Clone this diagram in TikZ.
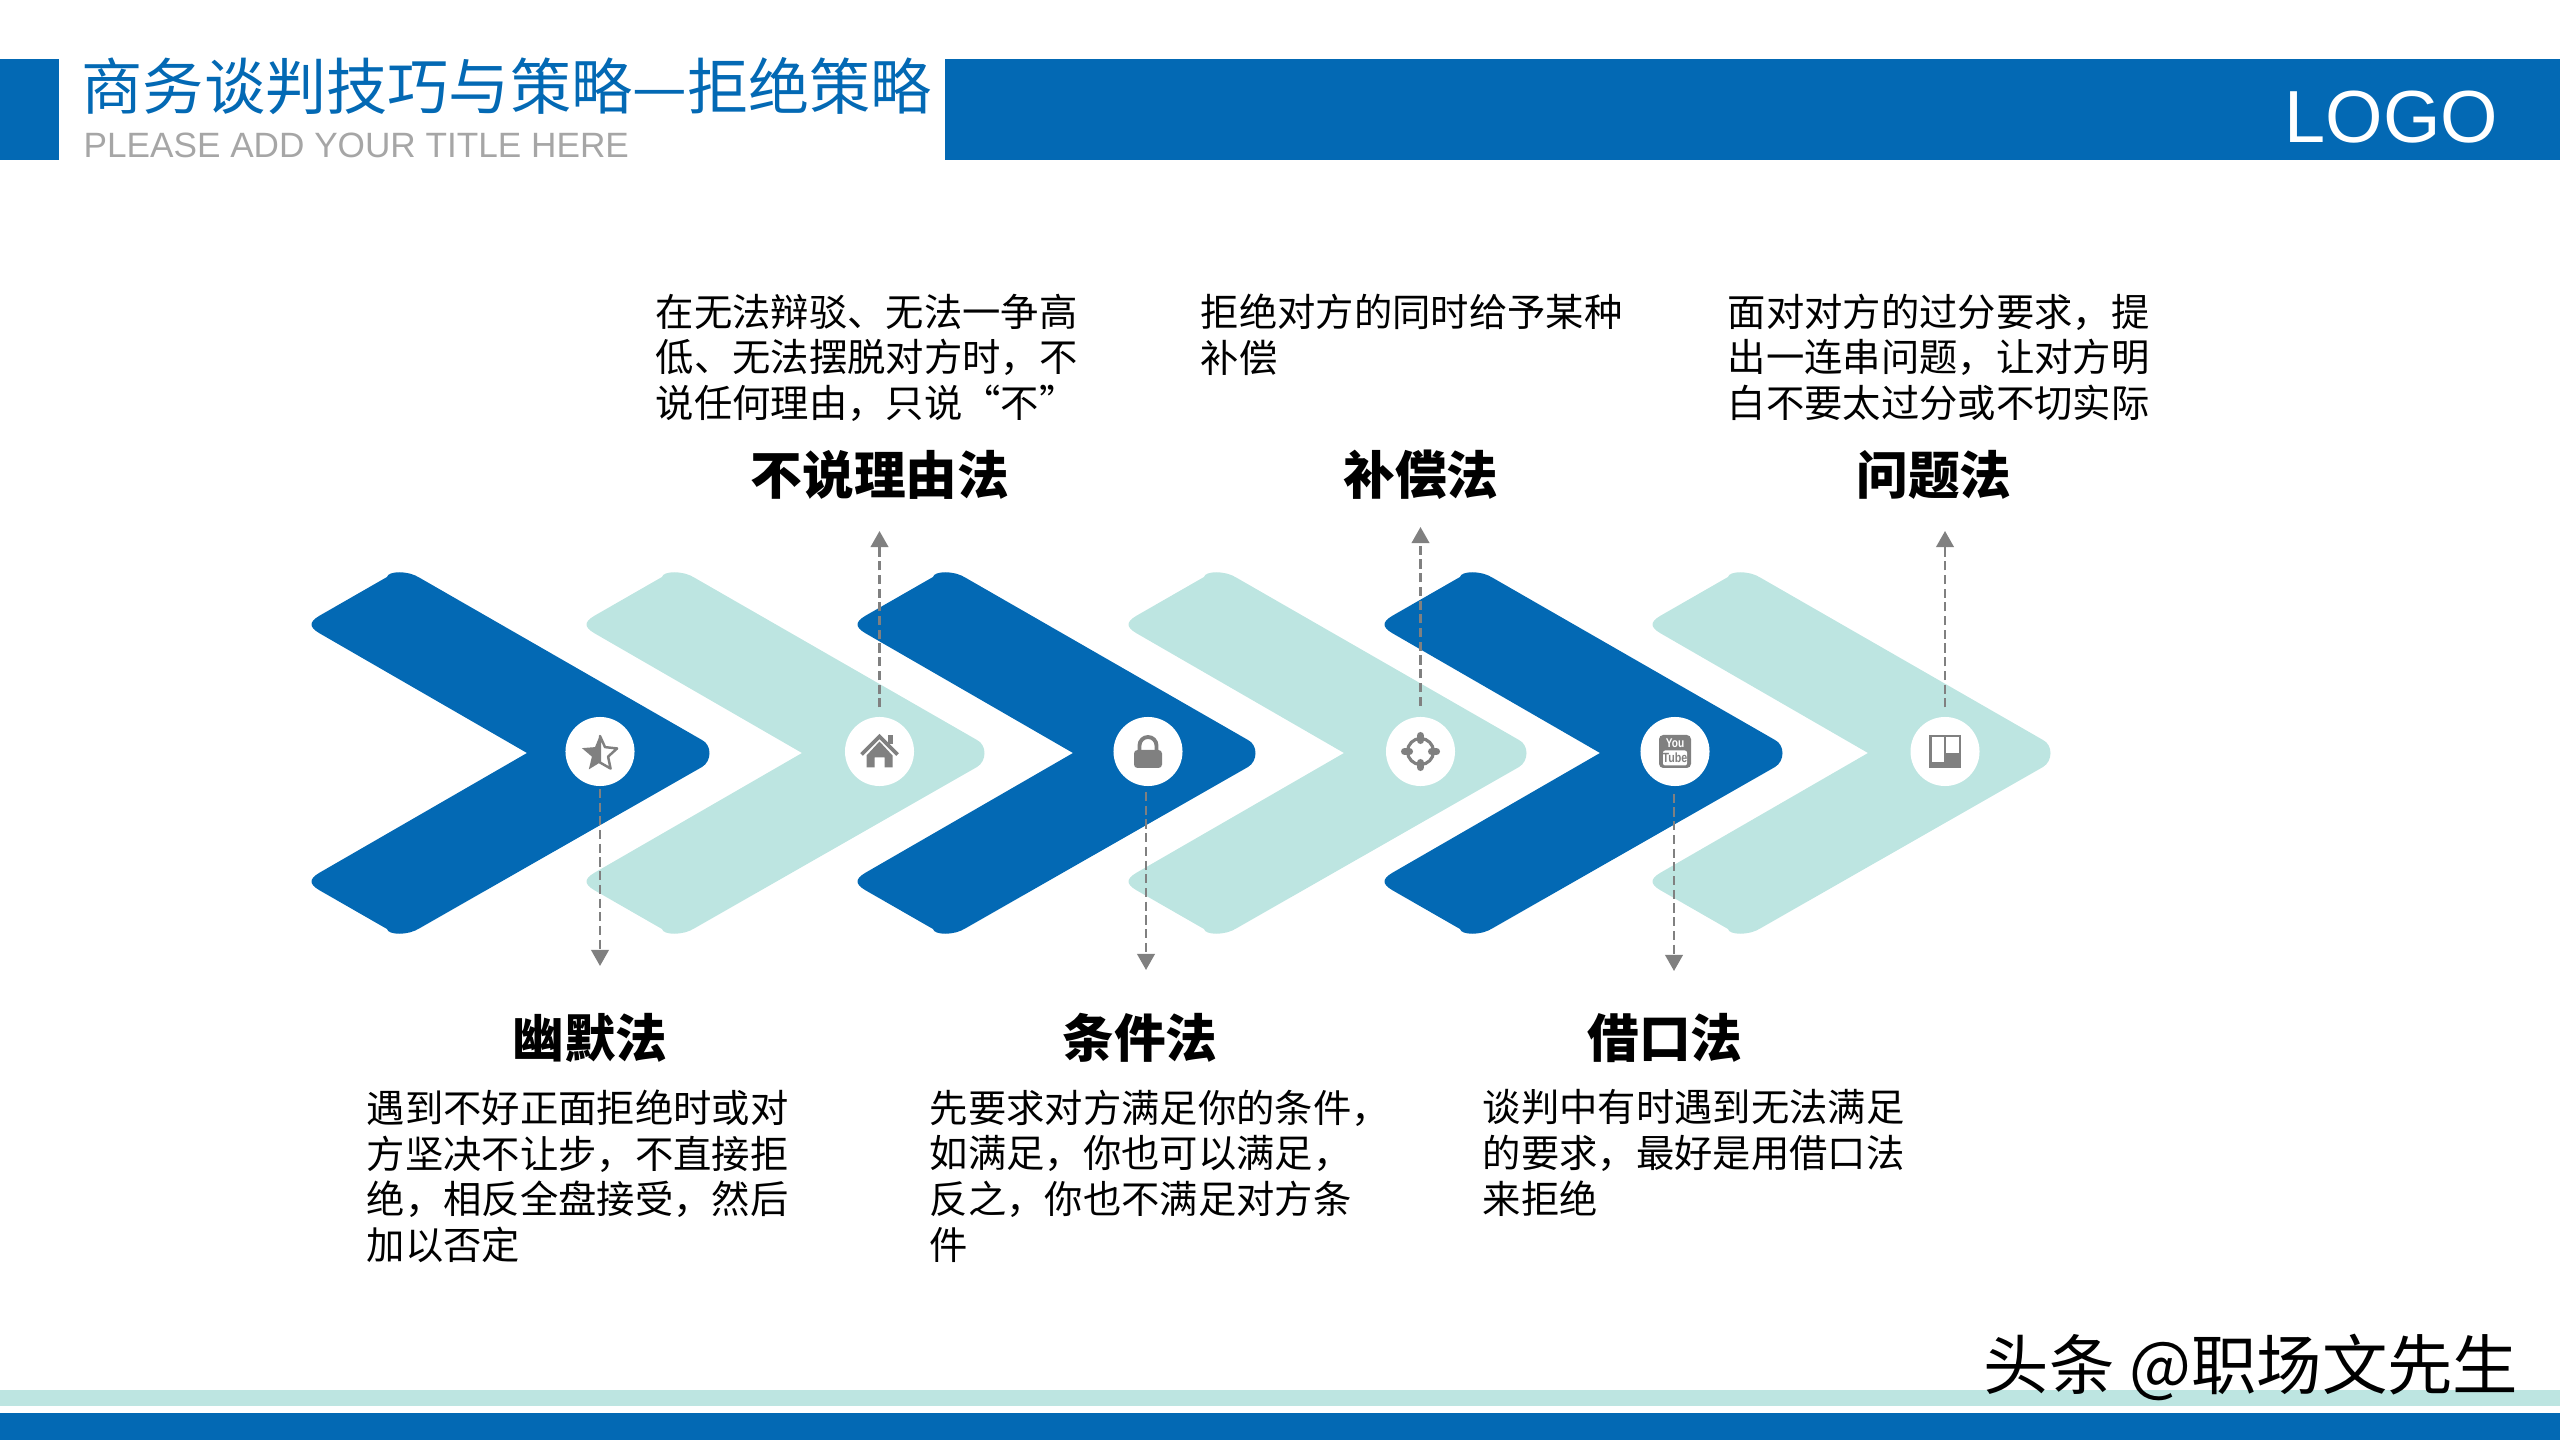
\documentclass[tikz,border=0pt]{standalone}
\usepackage{fontspec}
\setmainfont{Noto Sans CJK SC}
\newfontfamily\latinfont{Liberation Sans}
\usetikzlibrary{arrows.meta}
\definecolor{barblue}{HTML}{0369B4}
\definecolor{barlight}{HTML}{BDE5E1}
\definecolor{icongray}{HTML}{808080}
\definecolor{subgray}{HTML}{A6A6A6}
\tikzset{
  iconcircle/.style={circle,fill=white,minimum size=0.69cm,inner sep=0pt},
  dashline/.style={icongray,line width=0.7pt,dash pattern=on 2.6pt off 1.3pt,-{Triangle[length=4.6pt,width=5pt]}},
  headtext/.style={font=\fontsize{14.7}{17}\selectfont\bfseries,inner sep=0pt},
  bodytext/.style={font=\fontsize{10.9}{13}\selectfont,align=left,anchor=north west,inner sep=0pt}
}
\begin{document}
\begin{tikzpicture}[x=0.01cm,y=-0.01cm,>=latex]
\useasboundingbox (0,0) rectangle (2560,1440);

% header and footer bars
\fill[barblue] (0,59) rectangle (59,160);
\fill[barblue] (945,59) rectangle (2560,160);
\fill[barlight] (0,1390) rectangle (2560,1406);
\fill[barblue] (0,1413) rectangle (2560,1440);

% header text
\node[anchor=west,inner sep=0pt,text=barblue,font=\fontsize{17.4}{20}\selectfont] (titletext) at (81,86) {商务谈判技巧与策略—拒绝策略};
\node[anchor=west,inner sep=0pt,text=subgray,font=\fontsize{10}{12}\selectfont\latinfont] (subtext) at (83,145) {PLEASE ADD YOUR TITLE HERE};
\node[anchor=east,inner sep=0pt,text=white,font=\fontsize{21}{26}\selectfont\latinfont] (logotext) at (2499,117) {LOGO};

% the six chevrons
\foreach \x/\c in {0/barblue,275/barlight,546/barblue,817/barlight,1073/barblue,1341/barlight} {
\fill[\c,shift={(\x,0)}] (319,616) .. controls (309,622) and (309,627) .. (319,633)
  -- (527,753) -- (319,873)
  .. controls (309,879) and (309,884) .. (319,890)
  -- (387,929) .. controls (388,935) and (408,936) .. (420,928)
  -- (702,767) .. controls (712,761) and (712,745) .. (702,740)
  -- (420,578) .. controls (408,570) and (388,571) .. (387,577) -- cycle;
}

% white circles for the icons
\node[iconcircle] (starcircle) at (600,751.5) {};
\node[iconcircle] (housecircle) at (879.5,751.5) {};
\node[iconcircle] (lockcircle) at (1148,751.5) {};
\node[iconcircle] (crosscircle) at (1420.5,751.5) {};
\node[iconcircle] (tubecircle) at (1675,751.5) {};
\node[iconcircle] (boardcircle) at (1945,751.5) {};

% free ends of the dashed lines
\coordinate (startip) at (600,966);
\coordinate (housetip) at (879.5,531);
\coordinate (locktip) at (1146,970);
\coordinate (crosstip) at (1420.5,527);
\coordinate (tubetip) at (1674,971);
\coordinate (boardtip) at (1945,531);

\draw[dashline,shorten <=0.6pt] (startip |- starcircle.south) -- (startip);
\draw[dashline,shorten <=2.5pt] (housetip |- housecircle.north) -- (housetip);
\draw[dashline,shorten <=1.5pt] (locktip |- lockcircle.south) -- (locktip);
\draw[dashline,shorten <=3pt] (crosstip |- crosscircle.north) -- (crosstip);
\draw[dashline,shorten <=2pt] (tubetip |- tubecircle.south) -- (tubetip);
\draw[dashline,shorten <=2.5pt] (boardtip |- boardcircle.north) -- (boardtip);

% star icon, left half filled
\begin{scope}[shift={(starcircle)}]
\begin{scope}[shift={(0,2.5)}]
\fill[icongray] (-90:19) -- (234:8.5) -- (198:19) -- (162:8.5) -- (126:19) -- (90:8.5) -- cycle;
\draw[icongray,line width=0.7pt,line join=round] (-90:18) -- (-54:8.5) -- (-18:18) -- (18:8.5) -- (54:18) -- (90:8.5) -- cycle;
\end{scope}
\end{scope}

% house icon
\begin{scope}[shift={(housecircle)}]
\fill[icongray] (-13,4) -- (0,-10) -- (13,4) -- (13,16) -- (5,16) -- (5,6) -- (-5,6) -- (-5,16) -- (-13,16) -- cycle;
\draw[icongray,line width=1.1pt] (-18,3) -- (0,-15) -- (18,3);
\fill[icongray] (8,-16) rectangle (13,-7);
\end{scope}

% lock icon
\begin{scope}[shift={(lockcircle)}]
\fill[icongray,rounded corners=1pt] (-14,-1.5) rectangle (14,16.5);
\draw[icongray,line width=1.1pt] (-8.5,-1.5) -- (-8.5,-6) arc (180:360:8.5) -- (8.5,-1.5);
\end{scope}

% crosshair icon
\begin{scope}[shift={(crosscircle)}]
\draw[icongray,line width=0.9pt] (0,0) circle (13);
\foreach \a in {0,90,180,270} {
\draw[icongray,line width=2pt,line cap=round] (\a:11) -- (\a:16);
}
\end{scope}

% video icon
\begin{scope}[shift={(tubecircle)}]
\fill[icongray,rounded corners=1.2pt] (-16,-16.5) rectangle (16,16.5);
\fill[white,rounded corners=0.6pt] (-12,-1) rectangle (12,14);
\node[inner sep=0pt,text=white,font=\fontsize{3.6}{4}\selectfont\latinfont\bfseries,xscale=0.8] (youtext) at (0,-8.5) {You};
\node[inner sep=0pt,text=icongray,font=\fontsize{3.8}{4}\selectfont\latinfont\bfseries,xscale=0.8] (tubetext) at (0,6.5) {Tube};
\end{scope}

% board icon
\begin{scope}[shift={(boardcircle)}]
\fill[icongray] (-16,-16.5) rectangle (16,16.5);
\fill[white] (-13.5,-14.4) rectangle (-1.2,10.3);
\fill[white] (1.2,-14.4) rectangle (13.5,1.6);
\end{scope}

% headings
\foreach \n/\x/\y/\t in {
noreason/880/475/不说理由法,
compensate/1421/475/补偿法,
question/1934/475/问题法,
humor/590/1038/幽默法,
condition/1140/1038/条件法,
excuse/1665/1038/借口法}
\node[headtext] (\n head) at (\x,\y) {\t};

% descriptions
\node[bodytext] (noreasonbody) at (655,293) {在无法辩驳、无法一争高\\低、无法摆脱对方时，不\\说任何理由，只说“不”};
\node[bodytext] (compensatebody) at (1200,293) {拒绝对方的同时给予某种\\补偿};
\node[bodytext] (questionbody) at (1727,293) {面对对方的过分要求，提\\出一连串问题，让对方明\\白不要太过分或不切实际};
\node[bodytext] (humorbody) at (366,1089) {遇到不好正面拒绝时或对\\方坚决不让步，不直接拒\\绝，相反全盘接受，然后\\加以否定};
\node[bodytext] (conditionbody) at (929,1089) {先要求对方满足你的条件，\\如满足，你也可以满足，\\反之，你也不满足对方条\\件};
\node[bodytext] (excusebody) at (1482,1089) {谈判中有时遇到无法满足\\的要求，最好是用借口法\\来拒绝};

% source mark
\node[anchor=east,inner sep=0pt,font=\fontsize{18.6}{21}\selectfont] (marktext) at (2519,1367) {头条 @职场文先生};
\end{tikzpicture}
\end{document}
